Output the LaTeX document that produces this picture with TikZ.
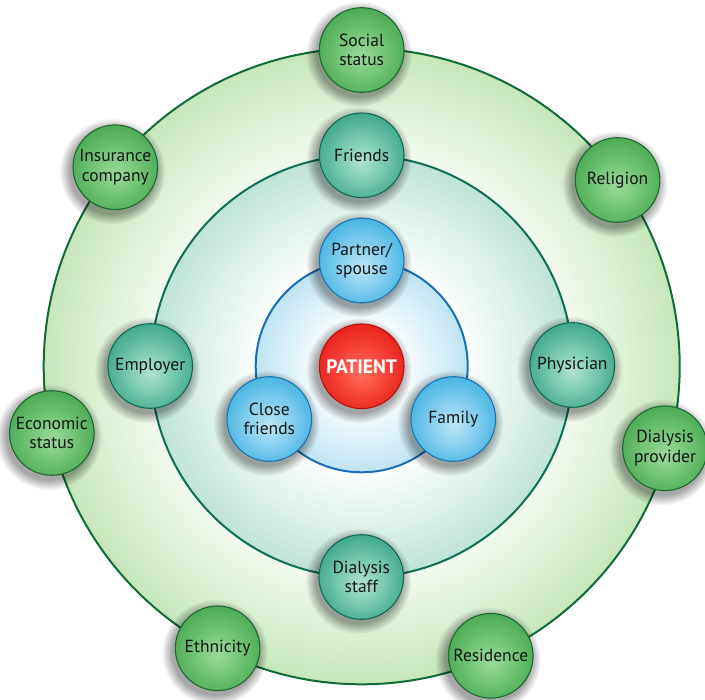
\documentclass[tikz,border=0pt]{standalone}
\usepackage{fontspec}
\setmainfont{PT Sans}
\usetikzlibrary{fadings}
\definecolor{ringG}{HTML}{C6E7BA}
\definecolor{ringT}{HTML}{BEE4D6}
\definecolor{ringB}{HTML}{BEE4F2}
\definecolor{lineG}{HTML}{0F6B38}
\definecolor{lineT}{HTML}{0E6E58}
\definecolor{lineB}{HTML}{1A6FB4}
\definecolor{gI}{HTML}{9BD99A}
\definecolor{gM}{HTML}{72C474}
\definecolor{gO}{HTML}{45A650}
\definecolor{gD}{HTML}{1E6A32}
\definecolor{tI}{HTML}{B0E0D1}
\definecolor{tM}{HTML}{76C8AE}
\definecolor{tO}{HTML}{38A386}
\definecolor{tD}{HTML}{116B57}
\definecolor{bI}{HTML}{BCE7F7}
\definecolor{bM}{HTML}{82CDEE}
\definecolor{bO}{HTML}{40B2E0}
\definecolor{bD}{HTML}{1B77B5}
\definecolor{rI}{HTML}{FF7060}
\definecolor{rM}{HTML}{F7453A}
\definecolor{rO}{HTML}{E61D16}
\definecolor{rD}{HTML}{B3140F}
\definecolor{txt}{HTML}{151515}
\pgfdeclareradialshading{outerring}{\pgfpoint{0bp}{0bp}}{color(0bp)=(white);color(14bp)=(white);color(25bp)=(ringG);color(50bp)=(ringG)}
\pgfdeclareradialshading{midring}{\pgfpoint{0bp}{0bp}}{color(0bp)=(white);color(12bp)=(white);color(25bp)=(ringT);color(50bp)=(ringT)}
\pgfdeclareradialshading{innerring}{\pgfpoint{0bp}{0bp}}{color(0bp)=(white);color(9bp)=(white);color(25bp)=(ringB);color(50bp)=(ringB)}
\pgfdeclareradialshading{gball}{\pgfpoint{0bp}{-4bp}}{color(0bp)=(gI);color(14bp)=(gM);color(29bp)=(gO);color(50bp)=(gO)}
\pgfdeclareradialshading{tball}{\pgfpoint{0bp}{-4bp}}{color(0bp)=(tI);color(14bp)=(tM);color(29bp)=(tO);color(50bp)=(tO)}
\pgfdeclareradialshading{bball}{\pgfpoint{0bp}{-4bp}}{color(0bp)=(bI);color(14bp)=(bM);color(29bp)=(bO);color(50bp)=(bO)}
\pgfdeclareradialshading{rball}{\pgfpoint{0bp}{-4bp}}{color(0bp)=(rI);color(14bp)=(rM);color(29bp)=(rO);color(50bp)=(rO)}
\pgfdeclarelayer{bg}
\pgfdeclarelayer{shd}
\pgfsetlayers{bg,shd,main}
\tikzset{
  bub/.style={circle, minimum size=84.6pt, inner sep=0pt, align=center, line width=1.1pt,
    text=txt, font=\fontsize{17.5}{19.5}\selectfont},
  gbub/.style={bub, draw=gD, shading=gball},
  tbub/.style={bub, draw=tD, shading=tball},
  bbub/.style={bub, draw=bD, shading=bball},
  rbub/.style={bub, draw=rD, shading=rball, text=white,
    font=\fontsize{19.5}{21}\selectfont\bfseries},
  ringline/.style={line width=2pt}
}
\begin{document}
\begin{tikzpicture}[x=1pt,y=-1pt]
\useasboundingbox (0,0) rectangle (705,700);
\coordinate (c) at (361.7,366.3);
% nodes
\node[rbub] (pat) at (c) {PATIENT};
\node[bbub] (par) at (361.7,260.5) {Partner/\\spouse};
\node[bbub] (cf) at (269.3,419) {Close\\friends};
\node[bbub] (fam) at (453.3,419) {Family};
\node[tbub] (fri) at (361.7,155.3) {Friends};
\node[tbub] (emp) at (150.2,366) {Employer};
\node[tbub] (phy) at (572.3,365) {Physician};
\node[tbub] (ds) at (361.3,577) {Dialysis\\staff};
\node[gbub] (soc) at (361.7,50) {Social\\status};
\node[gbub] (ins) at (115.3,167.2) {Insurance\\company};
\node[gbub] (rel) at (617.6,180) {Religion};
\node[gbub] (eco) at (51.8,433) {Economic\\status};
\node[gbub] (dp) at (665,448.3) {Dialysis\\provider};
\node[gbub] (eth) at (217.6,648.3) {Ethnicity};
\node[gbub] (res) at (490.8,655.8) {Residence};
% rings
\begin{pgfonlayer}{bg}
\shade[shading=outerring] (c) circle (318);
\draw[ringline, draw=lineG] (c) circle (318);
\shade[shading=midring] (c) circle (211);
\draw[ringline, draw=lineT] (c) circle (211);
\shade[shading=innerring] (c) circle (106);
\draw[ringline, draw=lineB] (c) circle (106);
\end{pgfonlayer}
% shadows
\begin{pgfonlayer}{shd}
\foreach \n in {pat,par,cf,fam,fri,emp,phy,ds,soc,ins,rel,eco,dp,eth,res}
  \fill[black, opacity=0.35, path fading=circle with fuzzy edge 20 percent]
    ([xshift=-3pt,yshift=-4pt]\n.center) circle (53);
\end{pgfonlayer}
\end{tikzpicture}
\end{document}
